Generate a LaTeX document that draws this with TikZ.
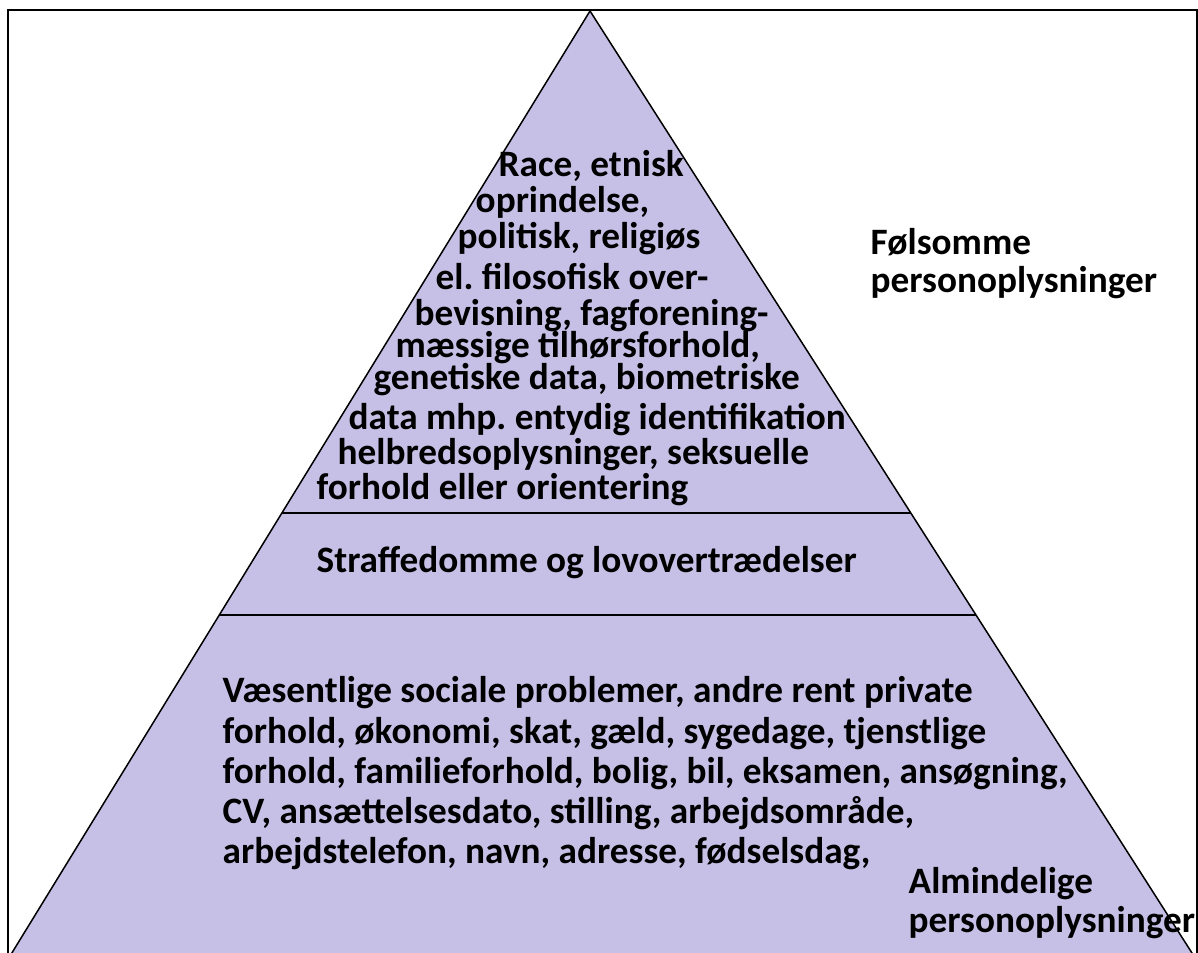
\documentclass[tikz,border=0pt]{standalone}
\usepackage{fontspec}
\setmainfont{Carlito}
\definecolor{pyrfill}{RGB}{199,192,230}
\frenchspacing
\begin{document}
\begin{tikzpicture}[x=0.1mm,y=-0.1mm]
  \useasboundingbox (0,0) rectangle (1198,953);
  \clip (0,0) rectangle (1198,953);
  % corners of the pyramid and ends of the dividers
  \coordinate (apex) at (590,11);
  \coordinate (bl) at (-17,1000);
  \coordinate (br) at (1222,1000);
  \coordinate (l1) at (282,513);
  \coordinate (r1) at (911,513);
  \coordinate (l2) at (219,615);
  \coordinate (r2) at (976,615);
  % frame
  \coordinate (fa) at (8,1000);
  \coordinate (fb) at (8,10);
  \coordinate (fc) at (1197,10);
  \coordinate (fd) at (1197,1000);
  \draw[line width=0.25mm] (fa) -- (fb) -- (fc) -- (fd);
  \filldraw[fill=pyrfill,draw=black,line width=0.15mm] (apex) -- (bl) -- (br) -- cycle;
  \begin{scope}[every edge/.style={draw=black,line width=0.2mm}]
    \path (l1) edge (r1);
    \path (l2) edge (r2);
  \end{scope}
  \begin{scope}[every node/.style={anchor=base west,inner sep=0pt,
      font=\bfseries\fontsize{10.6pt}{12.8pt}\selectfont}]
    \foreach \x/\y/\t [count=\i] in {498/177/{Race, etnisk},
        475/213/{oprindelse,},
        457/249/{politisk, religiøs},
        435/290/{el. filosofisk over-},
        414/326/{bevisning, fagforening-},
        395/358/{mæssige tilhørsforhold,},
        373/390/{genetiske data, biometriske},
        348/430/{data mhp. entydig identifikation},
        337/465/{helbredsoplysninger, seksuelle},
        316/500/{forhold eller orientering}}
      \node (s\i) at (\x,\y) {\t};
    \node (crime) at (316,573) {Straffedomme og lovovertrædelser};
    \foreach \y/\t [count=\i] in {703/{Væsentlige sociale problemer, andre rent private},
        743/{forhold, økonomi, skat, gæld, sygedage, tjenstlige},
        783/{forhold, familieforhold, bolig, bil, eksamen, ansøgning,},
        823/{CV, ansættelsesdato, stilling, arbejdsområde,},
        863/{arbejdstelefon, navn, adresse, fødselsdag,}}
      \node (g\i) at (222,\y) {\t};
    \node (sens1) at (870,255) {Følsomme};
    \node (sens2) at (870,293) {personoplysninger};
    \node (gen1) at (908,893) {Almindelige};
    \node (gen2) at (908,932) {personoplysninger};
  \end{scope}
\end{tikzpicture}
\end{document}
